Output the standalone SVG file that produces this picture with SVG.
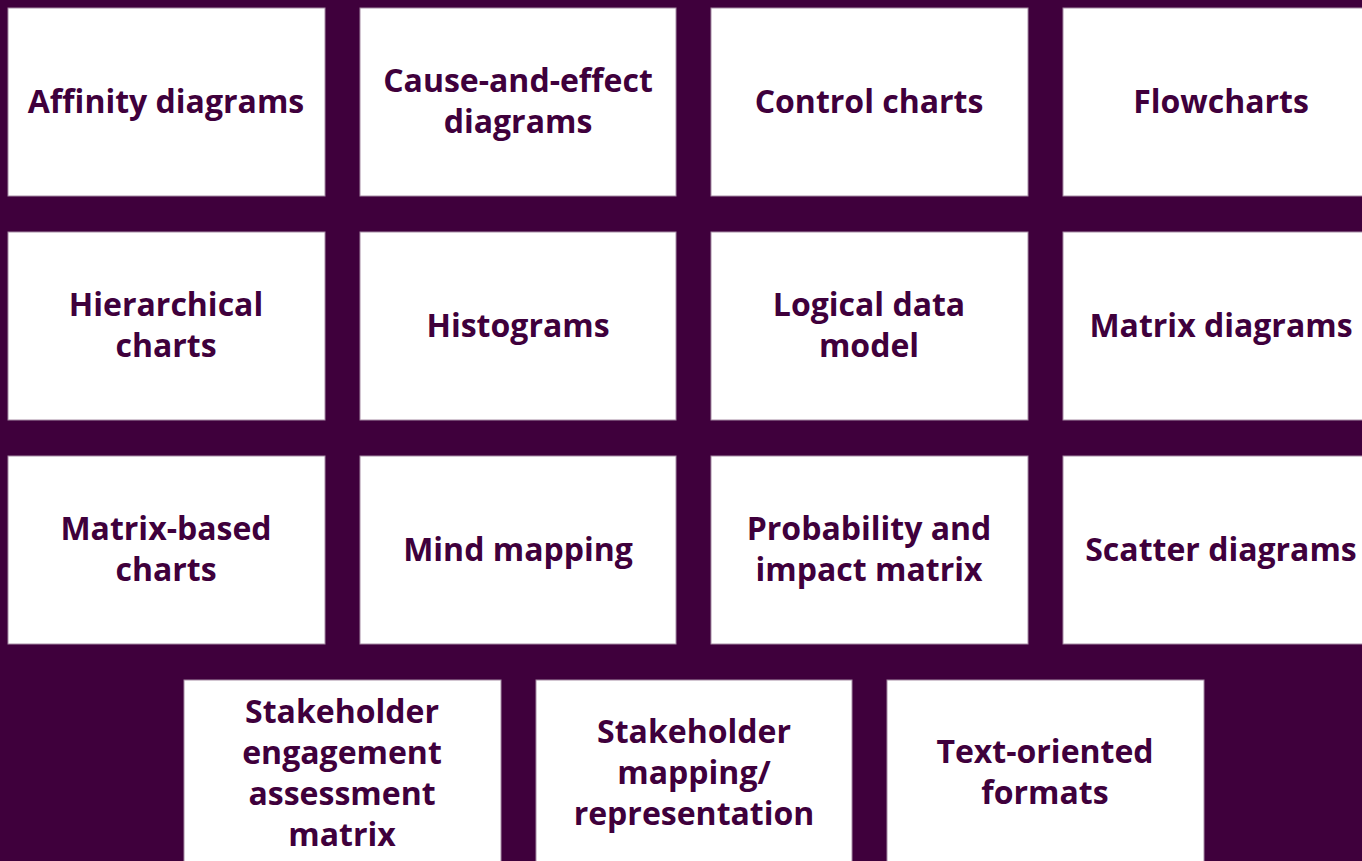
<svg xmlns="http://www.w3.org/2000/svg" width="1362" height="861" viewBox="0 0 1362 861">
<style>
.bx{fill:#ffffff;stroke:#a68ca4;stroke-width:1}
.t{font-family:"Open Sans",Lato,"Liberation Sans",sans-serif;font-weight:700;font-size:32px;fill:#3f003c;text-anchor:middle}
</style>
<rect x="0" y="0" width="1362" height="861" fill="#3f003c"/>
<g id="affinity"><rect class="bx" x="8" y="8" width="317" height="188"/><text class="t" x="166" y="113">Affinity diagrams</text></g>
<g id="cause"><rect class="bx" x="360" y="8" width="316" height="188"/><text class="t" x="518" y="92">Cause-and-effect</text><text class="t" x="518" y="133">diagrams</text></g>
<g id="control"><rect class="bx" x="711" y="8" width="317" height="188"/><text class="t" x="869" y="113">Control charts</text></g>
<g id="flowcharts"><rect class="bx" x="1063" y="8" width="317" height="188"/><text class="t" x="1221" y="113">Flowcharts</text></g>
<g id="hierarchical"><rect class="bx" x="8" y="232" width="317" height="188"/><text class="t" x="166" y="316">Hierarchical</text><text class="t" x="166" y="357">charts</text></g>
<g id="histograms"><rect class="bx" x="360" y="232" width="316" height="188"/><text class="t" x="518" y="337">Histograms</text></g>
<g id="logical"><rect class="bx" x="711" y="232" width="317" height="188"/><text class="t" x="869" y="316">Logical data</text><text class="t" x="869" y="357">model</text></g>
<g id="matrixdiagrams"><rect class="bx" x="1063" y="232" width="317" height="188"/><text class="t" x="1221" y="337">Matrix diagrams</text></g>
<g id="matrixbased"><rect class="bx" x="8" y="456" width="317" height="188"/><text class="t" x="166" y="540">Matrix-based</text><text class="t" x="166" y="581">charts</text></g>
<g id="mindmapping"><rect class="bx" x="360" y="456" width="316" height="188"/><text class="t" x="518" y="561">Mind mapping</text></g>
<g id="probability"><rect class="bx" x="711" y="456" width="317" height="188"/><text class="t" x="869" y="540">Probability and</text><text class="t" x="869" y="581">impact matrix</text></g>
<g id="scatter"><rect class="bx" x="1063" y="456" width="317" height="188"/><text class="t" x="1221" y="561">Scatter diagrams</text></g>
<g id="engagement"><rect class="bx" x="184" y="680" width="317" height="200"/><text class="t" x="342" y="723">Stakeholder</text><text class="t" x="342" y="764">engagement</text><text class="t" x="342" y="805">assessment</text><text class="t" x="342" y="846">matrix</text></g>
<g id="mapping"><rect class="bx" x="536" y="680" width="316" height="200"/><text class="t" x="694" y="743">Stakeholder</text><text class="t" x="694" y="784">mapping/</text><text class="t" x="694" y="825">representation</text></g>
<g id="textoriented"><rect class="bx" x="887" y="680" width="317" height="200"/><text class="t" x="1045" y="763">Text-oriented</text><text class="t" x="1045" y="804">formats</text></g>
<g id="connectors"></g>
</svg>
